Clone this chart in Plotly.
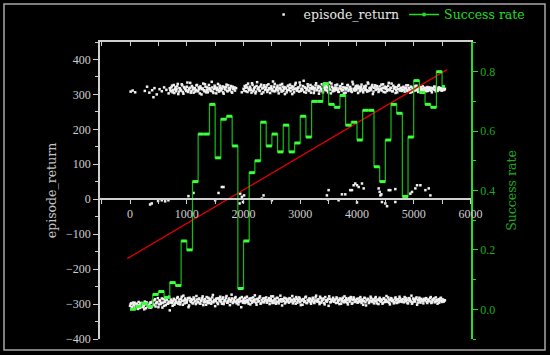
import plotly.graph_objects as go

# ---------------- data ----------------
# success rate, one value per 100 episodes
success_x = list(range(0, 5600, 100))
success_rate = [0.00, 0.01, 0.02, 0.01, 0.05, 0.06, 0.04, 0.09, 0.08, 0.23,
                0.20, 0.43, 0.59, 0.59, 0.69, 0.51, 0.64, 0.65, 0.55, 0.07,
                0.23, 0.46, 0.50, 0.63, 0.55, 0.59, 0.53, 0.62, 0.53, 0.56,
                0.65, 0.58, 0.70, 0.70, 0.76, 0.69, 0.68, 0.72, 0.62, 0.63,
                0.57, 0.67, 0.67, 0.48, 0.43, 0.57, 0.69, 0.66, 0.38, 0.58,
                0.77, 0.73, 0.69, 0.68, 0.80, 0.75]
success_last_end = 5550

# linear trend line of episode_return
fit_x = [-50, 5590]
fit_y = [-170, 371]

band_step = 20

# episode returns: upper (success) band, part 1
upper1_start = 700
upper1_y = [318, 309, 325, 312, 304, 321, 315, 330, 308, 317, 311, 326, 302, 319, 314, 322, 307, 316, 333, 310,
            320, 305, 318, 313, 327, 309, 315, 323, 300, 317, 312, 329, 306, 320, 314, 318, 310, 336, 308, 316,
            322, 303, 319, 313, 325, 311, 317, 306, 321, 314, 328, 309, 318, 312, 324, 305, 316, 320]
upper1b_start = 710
upper1b_y = [312, 320, 306, 327, 315, 309, 323, 301, 318, 313, 329, 307, 321, 316, 310, 334, 312, 319, 305, 324,
             314, 317, 308, 326, 311, 320, 303, 318, 315, 331, 309, 322, 313, 306, 327, 316, 311, 320, 304, 325,
             317, 312, 330, 308, 319, 314, 323, 302, 316, 321, 310, 326, 313, 318, 307, 322, 315, 311]
# upper band, part 2
upper2_start = 2000
upper2_y = [316, 324, 309, 320, 331, 312, 318, 305, 327, 314, 321, 308, 335, 317, 311, 323, 302, 319, 326, 313,
            320, 307, 329, 315, 318, 311, 337, 322, 309, 316, 325, 303, 319, 314, 330, 310, 321, 317, 306, 324,
            313, 328, 318, 301, 322, 315, 333, 311, 319, 308, 326, 316, 312, 339, 320, 305, 317, 323, 310, 327,
            315, 321, 304, 318, 332, 312, 324, 309, 316, 329, 306, 320, 314, 325, 311, 318, 334, 303, 322, 317,
            310, 326, 319, 313, 307, 323, 316, 330, 312, 320, 305, 318, 327, 314, 321, 309, 336, 316, 311, 324,
            318, 304, 322, 315, 328, 310, 319, 313, 325, 308, 331, 317, 312, 322, 301, 319, 326, 314, 320, 307,
            323, 316, 311, 329, 318, 306, 321, 314, 333, 312, 319, 309, 325, 317, 304, 320, 315, 327, 311, 318,
            314, 322, 308, 319, 312, 326, 317, 305, 321, 315, 310, 324, 318, 313, 307, 320, 316, 311, 323, 314,
            318, 309, 321, 315, 312, 319, 306, 317, 322, 313, 316, 310, 320, 314, 318, 311, 317, 313]
upper2b_start = 2010
upper2b_y = [311, 319, 326, 307, 316, 322, 313, 332, 309, 318, 303, 324, 315, 320, 310, 328, 317, 306, 321, 314,
             326, 312, 318, 304, 323, 316, 309, 330, 314, 320, 311, 317, 327, 308, 322, 315, 301, 319, 312, 325,
             318, 309, 323, 314, 306, 328, 317, 312, 320, 334, 310, 316, 324, 307, 319, 313, 329, 311, 318, 305,
             322, 316, 311, 326, 313, 319, 302, 321, 315, 310, 327, 318, 312, 320, 306, 323, 314, 331, 309, 316,
             319, 313, 328, 308, 317, 324, 311, 320, 303, 318, 314, 326, 310, 321, 316, 307, 329, 313, 319, 312,
             325, 317, 309, 321, 314, 306, 323, 318, 312, 334, 310, 319, 315, 327, 308, 320, 313, 324, 316, 311,
             314, 328, 319, 307, 322, 316, 310, 325, 313, 318, 331, 309, 317, 321, 312, 306, 324, 315, 319, 310,
             320, 313, 317, 326, 309, 318, 312, 322, 307, 316, 319, 311, 325, 314, 318, 310, 321, 316, 312, 319,
             313, 317, 310, 320, 315, 311, 318, 314, 322, 309, 316, 312, 319, 315, 311, 318, 313, 316]
# sparse upper-band points
upper_sparse_x = [10, 45, 90, 260, 300, 340, 390, 412, 430, 470, 520, 560, 600, 640, 680, 1870, 1970]
upper_sparse_y = [308, 311, 306, 310, 322, 305, 312, 292, 318, 300, 315, 309, 320, 313, 303, 318, 306]

# lower (failure) band
lower_start = 0
lower_y = [-305, -298, -311, -302, -296, -308, -300, -314, -303, -297, -309, -301, -306, -293, -312, -299, -304, -310, -295, -307,
           -291, -303, -286, -298, -294, -309, -289, -300, -284, -296, -305, -290, -281, -299, -293, -318, -287, -297, -292, -302,
           -288, -296, -280, -293, -301, -285, -291, -276, -298, -289, -295, -283, -304, -290, -286, -297, -281, -292, -300, -287,
           -294, -284, -299, -289, -278, -295, -286, -302, -291, -282, -297, -288, -293, -274, -290, -306, -285, -296, -283, -292,
           -287, -299, -281, -293, -290, -277, -296, -286, -303, -289, -284, -295, -292, -280, -298, -288, -294, -283, -309, -291,
           -285, -297, -290, -279, -294, -287, -301, -283, -292, -288, -275, -296, -286, -293, -282, -299, -289, -284, -295, -290,
           -281, -294, -288, -300, -285, -291, -278, -296, -287, -293, -283, -298, -290, -286, -304, -289, -282, -295, -288, -292,
           -296, -284, -290, -277, -293, -287, -299, -285, -291, -281, -295, -288, -302, -286, -292, -279, -297, -289, -284, -294,
           -288, -282, -295, -290, -276, -293, -286, -300, -283, -291, -287, -297, -280, -292, -289, -305, -285, -294, -290, -282,
           -293, -287, -281, -296, -289, -284, -299, -286, -292, -278, -294, -288, -301, -283, -290, -286, -297, -281, -293, -289,
           -285, -295, -290, -280, -297, -287, -292, -283, -304, -289, -286, -294, -279, -291, -288, -298, -284, -292, -287, -300,
           -282, -293, -288, -296, -285, -290, -277, -294, -287, -301, -283, -291, -289, -295, -281, -297, -286, -292, -284, -290,
           -294, -286, -280, -292, -288, -298, -283, -290, -276, -295, -287, -293, -284, -302, -289, -282, -296, -288, -291, -285,
           -290, -283, -297, -287, -292, -280, -295, -288, -284, -293, -289, -299, -286, -291, -282, -294, -288, -290]
lowerb_start = 10
lowerb_y = [-300, -309, -296, -304, -313, -299, -306, -294, -311, -302, -297, -308, -315, -301, -295, -307, -303, -298, -310, -296,
            -300, -289, -307, -295, -283, -301, -292, -297, -310, -286, -294, -303, -288, -299, -279, -296, -291, -305, -285, -298,
            -293, -283, -299, -287, -295, -279, -302, -290, -284, -296, -288, -309, -282, -294, -289, -298, -285, -292, -277, -295,
            -286, -298, -291, -283, -303, -288, -294, -280, -297, -290, -285, -299, -281, -295, -288, -292, -284, -300, -287, -279,
            -294, -285, -300, -289, -282, -296, -291, -284, -293, -273, -297, -288, -283, -294, -290, -301, -286, -292, -280, -296,
            -291, -282, -295, -288, -299, -284, -290, -296, -281, -293, -287, -302, -285, -291, -278, -297, -289, -294, -283, -288,
            -296, -289, -283, -292, -278, -297, -290, -285, -299, -282, -294, -288, -276, -293, -286, -291, -298, -284, -292, -287,
            -283, -293, -288, -298, -285, -291, -280, -296, -289, -284, -303, -290, -286, -294, -281, -297, -288, -292, -285, -299,
            -292, -286, -297, -281, -290, -288, -294, -279, -296, -287, -284, -301, -289, -293, -285, -278, -295, -290, -286, -293,
            -288, -297, -284, -291, -300, -286, -292, -282, -295, -289, -283, -296, -287, -293, -280, -299, -288, -285, -294, -290,
            -296, -284, -293, -287, -291, -302, -282, -295, -288, -285, -297, -290, -283, -294, -287, -291, -280, -298, -289, -286,
            -291, -287, -299, -283, -294, -288, -293, -281, -296, -289, -285, -292, -298, -284, -290, -287, -295, -279, -293, -288,
            -286, -295, -289, -283, -297, -290, -285, -293, -299, -284, -291, -287, -281, -296, -288, -293, -285, -290, -298, -287,
            -285, -294, -288, -291, -283, -297, -289, -286, -295, -281, -292, -288, -296, -284, -290, -287, -293, -289]

# scattered returns near zero
mid_x = [353, 382, 494, 559, 618, 676, 1029, 1118, 1500, 1559, 1618, 1647, 1930, 1941, 1971, 1990, 2010,
         2324, 2353, 2500, 3470, 3490, 3500, 3676, 3735, 3794, 3882, 3912, 3941, 3970, 4000, 4000, 4030,
         4088, 4118, 4382, 4400, 4412, 4430, 4441, 4500, 4530, 4559, 4588, 4676, 4676, 4941, 4970, 5029,
         5059, 5118, 5206, 5265, 5294]
mid_y = [-15, -12, -5, -3, -6, -3, 9, 18, -3, 18, 35, 35, -12, 16, 7, -8, 11,
         2, 11, -3, 11, -1, 26, -3, 14, 14, 26, 26, 40, 45, 40, -9, 35,
         45, 31, 31, 21, 11, 14, -8, -12, -20, 26, 26, -8, 29, 16, 21, 31,
         40, 40, 26, 31, 11]

x_ticks = [0, 1000, 2000, 3000, 4000, 5000, 6000]

# ---------------- figure ----------------
FONT_TXT = "DejaVu Serif"
FONT_NUM = "Liberation Serif"
WHITE_PT = "#f0f0f0"
GREEN_H = "#3dff3d"
GREEN_V = "#10c010"
GREEN_AX = "#22dd22"
GREEN_TXT = "#1fa81f"
GRAY = "#d0d0d0"

fig = go.Figure()


def band_x(start, ys):
    return [start + band_step * i for i in range(len(ys))]


ret_x = (upper_sparse_x + band_x(upper1_start, upper1_y) + band_x(upper1b_start, upper1b_y)
         + band_x(upper2_start, upper2_y) + band_x(upper2b_start, upper2b_y)
         + band_x(lower_start, lower_y) + band_x(lowerb_start, lowerb_y) + mid_x)
ret_y = upper_sparse_y + upper1_y + upper1b_y + upper2_y + upper2b_y + lower_y + lowerb_y + mid_y

fig.add_trace(go.Scatter(x=ret_x, y=ret_y, mode="markers", name="episode_return",
                         marker=dict(size=2.5, symbol="square", color=WHITE_PT, line=dict(width=0)),
                         xaxis="x", yaxis="y", showlegend=True))

fig.add_trace(go.Scatter(x=fit_x, y=fit_y, mode="lines", line=dict(color="#e00000", width=1.3),
                         xaxis="x", yaxis="y", showlegend=False))

# step line of success rate (thin verticals)
step_x = success_x + [success_last_end]
step_y = success_rate + [success_rate[-1]]
fig.add_trace(go.Scatter(x=step_x, y=step_y, mode="lines", line=dict(color=GREEN_V, width=1.2, shape="hv"),
                         xaxis="x", yaxis="y2", showlegend=False))

# bright horizontal plateaus
seg_x, seg_y = [], []
for i, v in enumerate(success_rate):
    x0 = success_x[i]
    x1 = success_x[i + 1] if i + 1 < len(success_x) else success_last_end
    seg_x += [x0, x1, None]
    seg_y += [v, v, None]
fig.add_trace(go.Scatter(x=seg_x, y=seg_y, mode="lines", line=dict(color=GREEN_H, width=3),
                         xaxis="x", yaxis="y2", showlegend=False, connectgaps=False))

# legend entry for success rate
fig.add_trace(go.Scatter(x=[None], y=[None], mode="lines+markers",
                         name="<span style='color:#22dd22'>Success rate</span>",
                         line=dict(color=GREEN_AX, width=1.5), marker=dict(size=4, color=GREEN_AX),
                         xaxis="x", yaxis="y2", showlegend=True))

# dummy trace for top axis
fig.add_trace(go.Scatter(x=[None], y=[None], xaxis="x2", yaxis="y", showlegend=False, hoverinfo="skip"))

xr = [-530, 6010]
fig.update_layout(
    width=550, height=355,
    margin=dict(l=100, r=79, t=42, b=16, autoexpand=False),
    paper_bgcolor="black", plot_bgcolor="black",
    font=dict(family=FONT_TXT, size=11, color=GRAY),
    showlegend=True,
    legend=dict(orientation="h", x=0.441, xanchor="left", y=1.091, yanchor="middle",
                font=dict(family=FONT_TXT, size=12.5, color="#e8e8e8"), bgcolor="rgba(0,0,0,0)",
                itemwidth=30),
    xaxis=dict(range=xr, anchor="free", position=400 / 850, showline=True, linecolor=GRAY, linewidth=1.5,
               tickmode="array", tickvals=x_ticks, ticks="outside", ticklen=4, tickcolor=GRAY, tickwidth=1,
               minor=dict(dtick=500, tick0=0, ticks="outside", ticklen=4, tickcolor=GRAY),
               showgrid=False, zeroline=False, tickfont=dict(family=FONT_NUM, size=12, color="#cfcfcf")),
    xaxis2=dict(range=xr, overlaying="x", side="top", anchor="y", showline=True, linecolor=GRAY, linewidth=1.5,
                tickmode="linear", tick0=0, dtick=500, ticks="inside", ticklen=4, tickcolor=GRAY,
                showticklabels=False, showgrid=False, zeroline=False),
    yaxis=dict(range=[-400, 450], showline=True, linecolor=GRAY, linewidth=1.5,
               tickmode="linear", tick0=-400, dtick=100, ticks="outside", ticklen=5, tickcolor=GRAY,
               minor=dict(dtick=50, ticks="outside", ticklen=3, tickcolor=GRAY),
               showgrid=False, zeroline=False, tickfont=dict(family=FONT_NUM, size=12, color="#cfcfcf"),
               title=dict(text="episode_return", font=dict(family=FONT_TXT, size=12.5, color="#c4c4c4"), standoff=7)),
    yaxis2=dict(range=[-0.1, 0.9], overlaying="y", side="right", anchor="x", showline=True,
                linecolor=GREEN_AX, linewidth=1.5,
                tickmode="linear", tick0=0, dtick=0.2, tickformat=".1f", ticks="outside", ticklen=5,
                tickcolor=GREEN_AX,
                minor=dict(dtick=0.1, tick0=0, ticks="outside", ticklen=3, tickcolor=GREEN_AX),
                showgrid=False, zeroline=False, tickfont=dict(family=FONT_NUM, size=12, color=GREEN_TXT),
                title=dict(text="Success rate", font=dict(family=FONT_TXT, size=12.5, color=GREEN_TXT), standoff=13)),
    shapes=[dict(type="rect", xref="paper", yref="paper", x0=-0.2588, x1=1.1995, y0=-0.037, y1=1.128,
                 line=dict(color="#a8a8a8", width=1.5), layer="below")],
)

fig.write_html("out.html", config={"displayModeBar": False},
               post_script="document.body.style.margin='0px';document.body.style.overflow='hidden';"
                           "document.documentElement.style.background='black';")
